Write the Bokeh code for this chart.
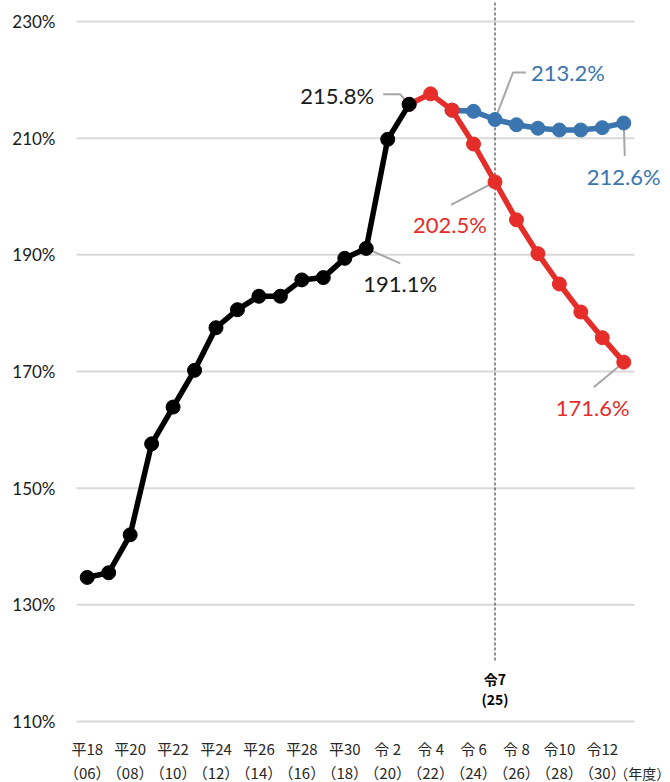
from bokeh.plotting import figure
from bokeh.models import Range1d
from bokeh.core.properties import value
from bokeh.embed import file_html
from bokeh.resources import INLINE

# ---------------- data ----------------
black_years = list(range(2006, 2022))
black_vals = [134.7, 135.5, 142.0, 157.6, 163.9, 170.2, 177.5, 180.6, 182.9, 182.9,
              185.7, 186.1, 189.4, 191.1, 209.8, 215.8]
red_years = list(range(2021, 2032))
red_vals = [215.8, 217.6, 214.8, 209.0, 202.5, 196.0, 190.2, 185.0, 180.2, 175.8, 171.6]
blue_years = list(range(2023, 2032))
blue_vals = [214.8, 214.6, 213.2, 212.3, 211.7, 211.4, 211.4, 211.8, 212.6]

tick_years = list(range(2006, 2031, 2))
era_labels = ["平18", "平20", "平22", "平24", "平26", "平28", "平30",
              "令 2", "令 4", "令 6", "令 8", "令10", "令12"]
west_labels = ["（06）", "（08）", "（10）", "（12）", "（14）", "（16）", "（18）",
               "（20）", "（22）", "（24）", "（26）", "（28）", "（30）"]
y_ticks = [110, 130, 150, 170, 190, 210, 230]
marker_year = 2025
marker_era = "令7"
marker_west = "(25)"
unit_label = "（年度）"

BLACK = "#000000"
RED = "#e52d2a"
BLUE = "#3a75b0"
GRAY = "#a6a6a6"

# ---------------- geometry (pixels) ----------------
W, H = 670, 782
PL, PR, PT, PB = 76, 634, 21, 721        # plot area: left/right x, y of top/bottom ticks
XA, XB = 2005.5, 2031.5                  # category span of plot area
ppx = (PR - PL) / (XB - XA)
ppy = (PB - PT) / (y_ticks[-1] - y_ticks[0])
X0 = XA - PL / ppx
X1 = X0 + W / ppx
Y1 = y_ticks[-1] + PT / ppy
Y0 = Y1 - H / ppy

def dx(px):
    return px / ppx

def dy(px):  # screen pixels downward -> data units
    return -px / ppy

def ypix(py):  # page y -> data
    return Y1 - py / ppy

p = figure(width=W, height=H, output_backend="svg", toolbar_location=None,
           x_range=Range1d(X0, X1), y_range=Range1d(Y0, Y1),
           min_border=0, min_border_left=0, min_border_right=0,
           min_border_top=0, min_border_bottom=0)
p.outline_line_color = None
p.background_fill_color = "white"
p.border_fill_color = "white"
p.axis.visible = False
p.grid.visible = False

# gridlines
p.segment(x0=[XA] * len(y_ticks), y0=y_ticks, x1=[XB] * len(y_ticks), y1=y_ticks,
          line_color="#d9d9d9", line_width=2)
# y tick labels
p.text(x=[XA - dx(21)] * len(y_ticks), y=y_ticks, text=[f"{t}%" for t in y_ticks],
       text_font=value("Lato"), text_font_size="17px", text_color="#1a1a1a",
       text_align="right", text_baseline="middle")

# dashed reference line
p.segment(x0=[marker_year], y0=[ypix(660)], x1=[marker_year], y1=[Y1],
          line_color="#222222", line_width=1, line_dash="3 2")

# leader lines + labels: (years, vals, year, color, leader pts px offsets, label offset px)
annots = [
    (black_years, black_vals, 2021, "#1a1a1a", [(0, 0), (-9, -10), (-26, -10)], (-72, -9)),
    (blue_years, blue_vals, 2025, BLUE, [(0, 0), (18, -47), (31, -47)], (73, -47)),
    (blue_years, blue_vals, 2031, BLUE, [(0, 0), (1, 33)], (0, 53)),
    (red_years, red_vals, 2025, RED, [(0, 0), (-44, 23)], (-45, 43)),
    (black_years, black_vals, 2019, "#1a1a1a", [(0, 0), (34, 15)], (34, 35)),
    (red_years, red_vals, 2031, RED, [(0, 0), (-30, 25)], (-31, 45)),
]
for yrs, vals, yr, col, pts, loff in annots:
    v = vals[yrs.index(yr)]
    xs = [yr + dx(a) for a, b in pts]
    ys = [v + dy(b) for a, b in pts]
    p.line(xs, ys, line_color=GRAY, line_width=2)
    p.text(x=[yr + dx(loff[0])], y=[v + dy(loff[1])], text=[f"{v:.1f}%"],
           text_font=value("Lato"), text_font_size="22px", text_color=col,
           text_align="center", text_baseline="middle")

# series
p.line(blue_years, blue_vals, line_color=BLUE, line_width=5.5, line_join="round")
p.scatter(blue_years, blue_vals, size=14, fill_color=BLUE, line_color=BLUE)
p.line(red_years, red_vals, line_color=RED, line_width=5.5, line_join="round")
p.scatter(red_years, red_vals, size=14, fill_color=RED, line_color=RED)
p.line(black_years, black_vals, line_color=BLACK, line_width=5.5, line_join="round")
p.scatter(black_years, black_vals, size=14, fill_color=BLACK, line_color=BLACK)

# marker-year label
p.text(x=[marker_year, marker_year], y=[ypix(678), ypix(698)], text=[marker_era, marker_west],
       text_font=value("Noto Sans CJK JP"), text_font_size="14px", text_font_style="bold",
       text_color="#000000", text_align="center", text_baseline="middle")

# x tick labels
n = len(tick_years)
p.text(x=tick_years, y=[ypix(748)] * n, text=era_labels,
       text_font=value("Noto Sans CJK JP"), text_font_size="15px",
       text_color="#262626", text_align="center", text_baseline="middle")
p.text(x=tick_years, y=[ypix(772)] * n, text=west_labels,
       text_font=value("Noto Sans CJK JP"), text_font_size="15px",
       text_color="#262626", text_align="center", text_baseline="middle")
p.text(x=[tick_years[-1] + 2 - dx(3)], y=[ypix(772)], text=[unit_label],
       text_font=value("Noto Sans CJK JP"), text_font_size="14px",
       text_color="#262626", text_align="center", text_baseline="middle")

open("out.html", "w").write(file_html(p, INLINE))
